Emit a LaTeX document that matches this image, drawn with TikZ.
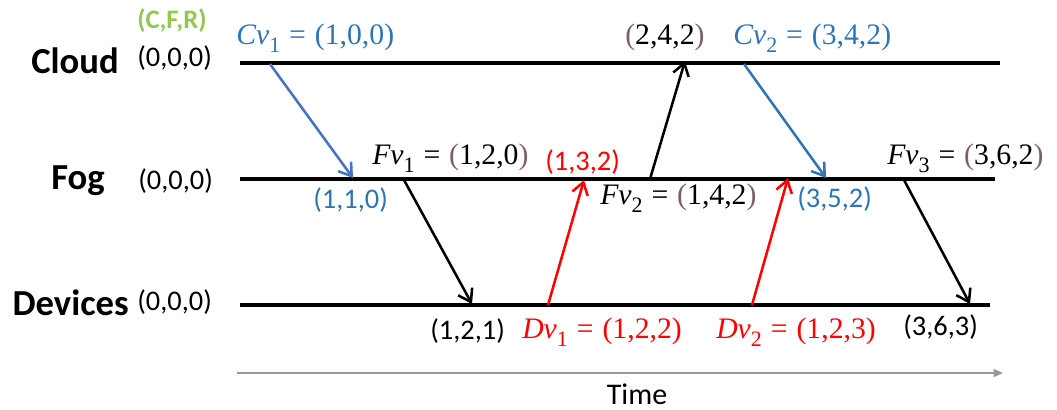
\documentclass[tikz,border=0pt]{standalone}
\usepackage{fontspec}
\setmainfont{Carlito}
\newfontfamily\mfont{Liberation Serif}
\usetikzlibrary{arrows.meta}
\definecolor{cblue}{HTML}{2E75B6}
\definecolor{ablue}{HTML}{4472C4}
\definecolor{cgreen}{HTML}{92C852}
\definecolor{cbrown}{HTML}{7F6060}
\newcommand{\bp}[1]{\textcolor{cbrown}{#1}}
\newcommand{\sbs}[1]{\raisebox{-0.28em}{\fontsize{16.5}{16.5}\selectfont #1}}
\newcommand{\eqs}{\hspace{0.3em}=\hspace{0.3em}}
\tikzset{
  tl/.style={line width=2.3pt, black},
  msg/.style={line width=1.9pt, -{Straight Barb[length=9pt,width=12pt,line width=1.9pt]}},
  lname/.style={font=\fontsize{27.5}{29}\selectfont\bfseries, inner sep=0pt},
  vec/.style={font=\fontsize{21.3}{23}\selectfont, inner sep=0pt},
  mlab/.style={font=\mfont\fontsize{22.3}{24}\selectfont, inner sep=0pt},
}
\begin{document}
\begin{tikzpicture}[x=0.75pt,y=-0.75pt]
\useasboundingbox (0,0) rectangle (1057,410);
% timelines
\coordinate (c0) at (240,63);  \coordinate (c1) at (1000,63);
\coordinate (f0) at (240,179); \coordinate (f1) at (995,179);
\coordinate (d0) at (240,305); \coordinate (d1) at (990,305);
\draw[tl] (c0) -- (c1);
\draw[tl] (f0) -- (f1);
\draw[tl] (d0) -- (d1);
\coordinate (t0) at (237,373); \coordinate (t1) at (1003,373);
\draw[gray!80, line width=1pt, -{Triangle[length=7pt,width=6pt]}] (t0) -- (t1);
\node[font=\fontsize{22.5}{24}\selectfont, inner sep=0pt, anchor=base] (time) at (637,404) {Time};
% layer names
\node[lname, anchor=east] (cloud) at (119,61) {Cloud};
\node[lname, anchor=east] (fog) at (105,181) {Fog};
\node[lname, anchor=east] (dev) at (129,303) {Devices};
\node[vec, anchor=west] (cz) at (137,58) {(0,0,0)};
\node[vec, anchor=west] (fz) at (138,181) {(0,0,0)};
\node[vec, anchor=west] (dz) at (137,302) {(0,0,0)};
\node[vec, anchor=west, text=cgreen, font=\fontsize{20}{22}\selectfont\bfseries] (cfr) at (137,21) {(C,F,R)};
% message endpoints
\coordinate (a1s) at (270,64);  \coordinate (a1e) at (353,178);
\coordinate (a2s) at (404,180); \coordinate (a2e) at (472,304);
\coordinate (a3s) at (548,305); \coordinate (a3e) at (584,180);
\coordinate (a4s) at (650,179); \coordinate (a4e) at (685,61);
\coordinate (a5s) at (744,64);  \coordinate (a5e) at (826,178);
\coordinate (a6s) at (752,305); \coordinate (a6e) at (788,178);
\coordinate (a7s) at (904,180); \coordinate (a7e) at (970,304);
\draw[msg, ablue] (a1s) -- (a1e);
\draw[msg, black] (a2s) -- (a2e);
\draw[msg, red] (a3s) -- (a3e);
\draw[msg, black] (a4s) -- (a4e);
\draw[msg, cblue] (a5s) -- (a5e);
\draw[msg, red] (a6s) -- (a6e);
\draw[msg, black] (a7s) -- (a7e);
% labels
\node[mlab, anchor=west, text=cblue] (cv1) at (236,38) {\textit{Cv}\sbs{1}\eqs(1,0,0)};
\node[mlab, anchor=west, text=cblue] (cv2) at (733,38) {\textit{Cv}\sbs{2}\eqs(3,4,2)};
\node[mlab, anchor=west] (l242) at (625,37) {\bp{(}2,4,2\bp{)}};
\node[mlab, anchor=west] (fv1) at (372,158) {\textit{Fv}\sbs{1}\eqs\bp{(}1,2,0\bp{)}};
\node[mlab, anchor=west] (fv2) at (600,198) {\textit{Fv}\sbs{2}\eqs\bp{(}1,4,2\bp{)}};
\node[mlab, anchor=west] (fv3) at (887,158) {\textit{Fv}\sbs{3}\eqs\bp{(}3,6,2\bp{)}};
\node[vec, anchor=west, text=cblue] (l110) at (313,200) {(1,1,0)};
\node[vec, anchor=west, text=red] (l132) at (545,162) {(1,3,2)};
\node[vec, anchor=west, text=cblue] (l352) at (797,199) {(3,5,2)};
\node[vec, anchor=west] (l121) at (430,331) {(1,2,1)};
\node[vec, anchor=west] (l363) at (903,327) {(3,6,3)};
\node[mlab, anchor=west, text=red] (dv1) at (522,332) {\textit{Dv}\sbs{1}\eqs(1,2,2)};
\node[mlab, anchor=west, text=red] (dv2) at (716,332) {\textit{Dv}\sbs{2}\eqs(1,2,3)};
\end{tikzpicture}
\end{document}
